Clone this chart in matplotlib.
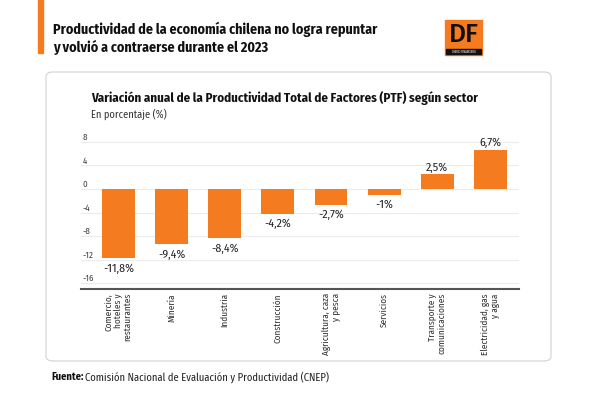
import matplotlib
matplotlib.use("Agg")
import matplotlib.pyplot as plt
from matplotlib.patches import FancyBboxPatch, Rectangle

# Data
sectores = ["Comercio,\nhoteles y\nrestaurantes", "Minería", "Industria", "Construcción",
            "Agricultura, caza\ny pesca", "Servicios", "Transporte y\ncomunicaciones",
            "Electricidad, gas\ny agua"]
variacion = [-11.8, -9.4, -8.4, -4.2, -2.7, -1.0, 2.5, 6.7]
etiquetas = ["-11,8%", "-9,4%", "-8,4%", "-4,2%", "-2,7%", "-1%", "2,5%", "6,7%"]
yticks = [8, 4, 0, -4, -8, -12, -16]

ORANGE = "#F47B20"
W, H = 600, 394
plt.rcParams['font.family'] = ['Fira Sans Condensed', 'Roboto', 'DejaVu Sans']

fig = plt.figure(figsize=(6, 3.94), dpi=100)


def fx(x):
    return x / W


def fy(y):
    return 1 - y / H


# accent bar and card
fig.patches.append(Rectangle((fx(38), fy(53)), 5 / W, 53 / H, transform=fig.transFigure,
                             color=ORANGE, zorder=-5))
fig.patches.append(FancyBboxPatch((fx(46), fy(361)), 505 / W, 289 / H,
                                  boxstyle="round,pad=0,rounding_size=0.012",
                                  transform=fig.transFigure, facecolor="white",
                                  edgecolor="#d6d6d6", linewidth=0.9, zorder=-5))

# titles
fig.text(fx(53), fy(29), "Productividad de la economía chilena no logra repuntar",
         fontsize=10.1, fontweight="bold", color="#111111", va="center")
fig.text(fx(53), fy(47), "y volvió a contraerse durante el 2023",
         fontsize=10.1, fontweight="bold", color="#111111", va="center")

# DF logo
fig.patches.append(Rectangle((fx(445), fy(55)), 37 / W, 35 / H, transform=fig.transFigure,
                             color=ORANGE, zorder=1))
fig.patches.append(Rectangle((fx(446), fy(54)), 35 / W, 5 / H, transform=fig.transFigure,
                             color="#111111", zorder=2))
fig.text(fx(463.5), fy(35), "DF", fontsize=19, fontweight="medium", color="#111111",
         ha="center", va="center", family=["Fira Sans", "Roboto"], zorder=3)
fig.text(fx(463.5), fy(51.5), "DIARIO FINANCIERO", fontsize=2.2, color="white",
         ha="center", va="center", zorder=3)

fig.text(fx(91), fy(98), "Variación anual de la Productividad Total de Factores (PTF) según sector",
         fontsize=9.3, fontweight="bold", color="#111111", va="center")
fig.text(fx(91), fy(114), "En porcentaje (%)", fontsize=7.5, color="#333333", va="center")

# chart
ax = fig.add_axes([fx(81), fy(289), (519 - 81) / W, (289 - 136) / H])
ax.set_facecolor("none")
x = list(range(len(sectores)))
ax.bar(x, variacion, width=0.62, color=ORANGE, zorder=3)
ax.set_xlim(-0.706, 7.54)
ax.set_ylim(-17, 9)

for xi, v, lab in zip(x, variacion, etiquetas):
    if v < 0:
        ax.annotate(lab, (xi, v), xytext=(0, -3.5), textcoords="offset points",
                    ha="center", va="top", fontsize=8.5, color="#222222")
    else:
        ax.annotate(lab, (xi, v), xytext=(0, 1), textcoords="offset points",
                    ha="center", va="bottom", fontsize=8.5, color="#222222")

ax.set_yticks(yticks)
ax.set_yticklabels([str(t) for t in yticks])
ax.tick_params(axis="y", length=0, pad=-1, labelsize=6.5, labelcolor="#444444")
for t in ax.get_yticklabels():
    t.set_ha("left")
    t.set_va("bottom")
ax.grid(axis="y", color="#ececec", linewidth=0.8, zorder=0)

ax.set_xticks(x)
ax.set_xticklabels(sectores, rotation=90, fontsize=6.6, color="#333333",
                   ha="center", va="top", multialignment="right", linespacing=1.05)
ax.tick_params(axis="x", length=0, pad=3)

for s in ["top", "right", "left"]:
    ax.spines[s].set_visible(False)
ax.spines["bottom"].set_color("#555555")
ax.spines["bottom"].set_linewidth(1.5)

# source
src = fig.text(fx(51), fy(377), "Fuente:", fontsize=7.6, fontweight="bold",
               color="#111111", va="center")
fig.canvas.draw()
bb = src.get_window_extent()
fig.text(bb.x1 / fig.bbox.width + 2 / W, fy(377),
         "Comisión Nacional de Evaluación y Productividad (CNEP)",
         fontsize=7.6, color="#222222", va="center")

fig.savefig("out.png", dpi=100)
